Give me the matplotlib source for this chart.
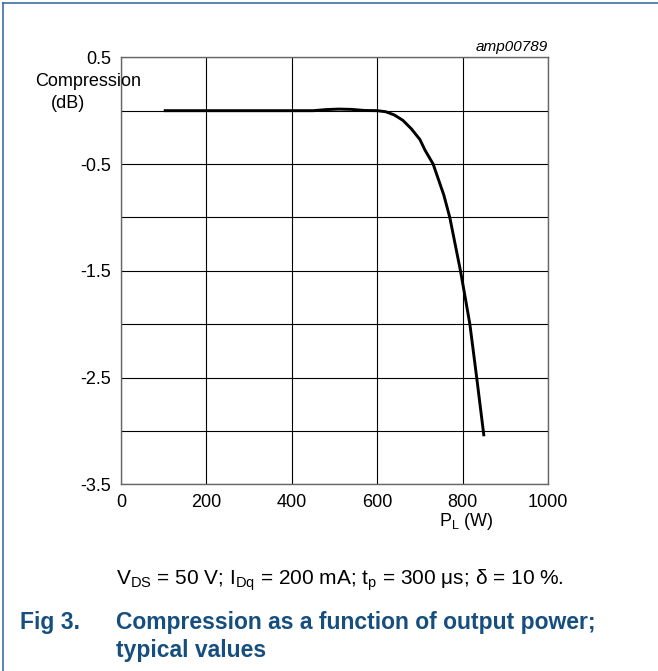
import numpy as np
import matplotlib.pyplot as plt
from matplotlib.lines import Line2D

plt.rcParams['font.family'] = ['Liberation Sans', 'DejaVu Sans']
plt.rcParams['mathtext.fontset'] = 'custom'
plt.rcParams['mathtext.rm'] = 'Liberation Sans'
plt.rcParams['mathtext.it'] = 'Liberation Sans:italic'

# data
power_w = [100, 200, 300, 400, 450, 480, 510, 540, 570, 600, 620, 640, 660,
           680, 700, 712, 731, 756, 770, 795, 807, 817, 833, 850]
compression_db = [0, 0, 0, 0, 0, 0.01, 0.015, 0.012, 0.002, 0, -0.01, -0.04,
                  -0.09, -0.17, -0.27, -0.37, -0.5, -0.79, -1.0, -1.5, -1.77,
                  -2.0, -2.5, -3.05]

x_ticks = [0, 200, 400, 600, 800, 1000]
y_grid = np.arange(-3.5, 0.51, 0.5)
y_labels = ["0.5", "-0.5", "-1.5", "-2.5", "-3.5"]

fig = plt.figure(figsize=(6.58, 6.71), dpi=100)
ax = fig.add_axes([121/658, 1 - 484.3/671, 427/658, 427/671])

ax.plot(power_w, compression_db, color="black", lw=2.1, solid_capstyle="butt")

ax.set_xlim(0, 1000)
ax.set_ylim(-3.5, 0.5)
ax.set_xticks(x_ticks)
ax.set_yticks(y_grid)
ax.set_yticklabels([f"{v:.1f}" if f"{v:.1f}" in y_labels else "" for v in y_grid])
ax.tick_params(length=0, labelsize=13)
ax.tick_params(axis="y", pad=7)
ax.tick_params(axis="x", pad=7)
ax.grid(True, color="black", lw=0.8)
for s in ax.spines.values():
    s.set_color("#666666")
    s.set_linewidth(1.0)

fig.text(88.5/658, 1 - 81/671, "Compression", ha="center", va="center", fontsize=13)
fig.text(67.5/658, 1 - 104/671, "(dB)", ha="center", va="center", fontsize=13)
fig.text(548/658, 1 - 47/671, "amp00789", ha="right", va="center",
         fontsize=11, style="italic")
fig.text(466/658, 1 - 521/671, r"P$_\mathregular{L}$ (W)", ha="center",
         va="center", fontsize=13)

fig.text(116/658, 1 - 580/671,
         r"V$_\mathregular{DS}$ = 50 V; I$_\mathregular{Dq}$ = 200 mA; "
         r"t$_\mathregular{p}$ = 300 μs; δ = 10 %.",
         ha="left", va="center", fontsize=15)

blue = "#164f7e"
fig.text(20/658, 1 - 622/671, "Fig 3.", ha="left", va="center",
         fontsize=16.5, fontweight="bold", color=blue)
fig.text(116/658, 1 - 622/671, "Compression as a function of output power;",
         ha="left", va="center", fontsize=16.5, fontweight="bold", color=blue)
fig.text(116/658, 1 - 650/671, "typical values", ha="left", va="center",
         fontsize=16.5, fontweight="bold", color=blue)

# frame round the figure (top and left only)
border = "#3d6f9e"
fig.add_artist(Line2D([3/658, 3/658], [0, 1 - 3/671], color=border, lw=1.2))
fig.add_artist(Line2D([3/658, 1], [1 - 3/671, 1 - 3/671], color=border, lw=1.2))

fig.savefig("out.png", dpi=100)
